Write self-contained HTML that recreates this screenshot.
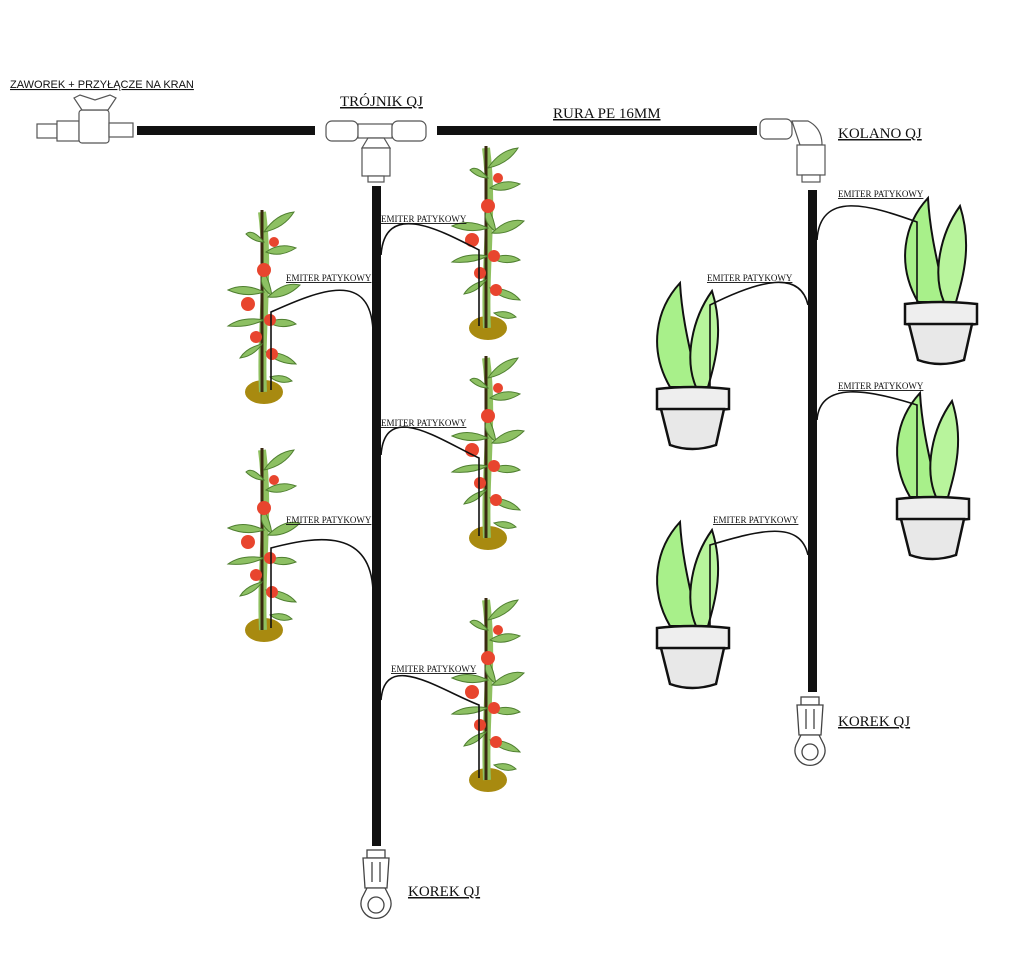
<!DOCTYPE html>
<html><head><meta charset="utf-8"><style>
body{margin:0;background:#fff}
svg{display:block}
text{font-family:"Liberation Serif",serif;fill:#111;text-decoration:underline}
</style></head><body>
<svg width="1024" height="967" viewBox="0 0 1024 967" xmlns="http://www.w3.org/2000/svg">
<defs>
<g id="tom">
<ellipse cx="0" cy="0" rx="19" ry="12" fill="#a88a10"/>
<path d="M-1,0 C-4,-60 6,-120 -2,-180" stroke="#8fc060" stroke-width="8" fill="none"/>
<line x1="-2" y1="0" x2="-2" y2="-182" stroke="#3a2a10" stroke-width="3"/>
<g fill="#8dc063" stroke="#4f7f30" stroke-width="1">
<path d="M0,-160 q12,-18 30,-20 q-10,16 -30,20z"/>
<path d="M0,-150 q-12,-14 -18,-8 q8,8 18,8z"/>
<path d="M2,-140 q14,-10 30,-4 q-16,10 -30,4z"/>
<path d="M0,-120 q-8,12 8,24 q-2,-14 -8,-24z"/>
<path d="M0,-100 q-20,-10 -36,-2 q18,8 36,2z"/>
<path d="M4,-95 q16,-16 32,-12 q-14,14 -32,12z"/>
<path d="M0,-72 q-22,-4 -36,6 q20,2 36,-6z"/>
<path d="M4,-70 q18,-6 28,2 q-16,6 -28,-2z"/>
<path d="M2,-40 q20,0 30,12 q-18,0 -30,-12z"/>
<path d="M-2,-48 q-16,4 -22,14 q14,-2 22,-14z"/>
<path d="M6,-15 q14,-4 22,4 q-12,4 -22,-4z"/>
</g>
<g fill="#e8452e">
<circle cx="0" cy="-122" r="7"/><circle cx="10" cy="-150" r="5"/>
<circle cx="-16" cy="-88" r="7"/><circle cx="6" cy="-72" r="6"/>
<circle cx="-8" cy="-55" r="6"/><circle cx="8" cy="-38" r="6"/>
</g>
</g>
<g id="pot">
<path d="M-22,-2 C-44,-40 -36,-80 -12,-106 C-10,-70 -2,-40 6,-2z" fill="#a8f08a" stroke="#111" stroke-width="2"/>
<path d="M4,-2 C-8,-30 0,-70 20,-98 C32,-60 24,-30 16,-2z" fill="#b8f49c" stroke="#111" stroke-width="2"/>
<path d="M-35,0 Q0,-4 37,0 L37,20 Q0,24 -35,20z" fill="#eee" stroke="#111" stroke-width="2.5"/>
<path d="M-31,20 L32,20 L24,56 Q0,64 -22,56z" fill="#e8e8e8" stroke="#111" stroke-width="2.5"/>
</g>
<g id="korek" fill="#fff" stroke="#444" stroke-width="1.3">
<rect x="-9" y="0" width="18" height="8"/>
<path d="M-13,8 L13,8 L11,38 L-11,38z"/>
<line x1="-4" y1="12" x2="-4" y2="32"/><line x1="4" y1="12" x2="4" y2="32"/>
<path d="M-9,38 L9,38 L14,48 A15,15 0 1 1 -14,48z"/>
<circle cx="0" cy="55" r="8"/>
</g>
</defs>

<text x="10" y="88" font-size="11" style="font-family:'Liberation Sans',sans-serif">ZAWOREK + PRZYŁĄCZE NA KRAN</text>
<text x="340" y="106" font-size="15">TRÓJNIK QJ</text>
<text x="553" y="118" font-size="15">RURA PE 16MM</text>
<text x="838" y="138" font-size="15">KOLANO QJ</text>
<text x="408" y="896" font-size="15">KOREK QJ</text>
<text x="838" y="726" font-size="15">KOREK QJ</text>

<g fill="#fff" stroke="#555" stroke-width="1.2">
<rect x="37" y="124" width="20" height="14"/>
<rect x="57" y="121" width="22" height="20"/>
<rect x="79" y="110" width="30" height="33" rx="3"/>
<path d="M74,98 L80,95 L95,100 L110,95 L116,98 L108,110 L82,110z"/>
<rect x="109" y="123" width="24" height="14"/>
</g>
<rect x="137" y="126" width="178" height="9" fill="#111"/>
<rect x="437" y="126" width="320" height="9" fill="#111"/>
<g fill="#fff" stroke="#555" stroke-width="1.2">
<rect x="326" y="121" width="32" height="20" rx="6"/>
<rect x="358" y="124" width="34" height="14"/>
<rect x="392" y="121" width="34" height="20" rx="6"/>
<path d="M368,138 L384,138 L390,148 L362,148z"/>
<rect x="362" y="148" width="28" height="28"/>
<rect x="368" y="176" width="16" height="6"/>
</g>
<g fill="#fff" stroke="#555" stroke-width="1.2">
<rect x="760" y="119" width="32" height="20" rx="6"/>
<path d="M792,121 L808,121 Q822,128 822,145 L800,145 Z"/>
<rect x="797" y="145" width="28" height="30"/>
<rect x="802" y="175" width="18" height="7"/>
</g>
<rect x="372" y="186" width="9" height="660" fill="#111"/>
<rect x="808" y="190" width="9" height="502" fill="#111"/>

<use href="#tom" x="264" y="392"/>
<use href="#tom" x="488" y="328"/>
<use href="#tom" x="488" y="538"/>
<use href="#tom" x="264" y="630"/>
<use href="#tom" x="488" y="780"/>

<use href="#pot" x="692" y="389"/>
<use href="#pot" x="940" y="304"/>
<use href="#pot" x="932" y="499"/>
<use href="#pot" x="692" y="628"/>

<g fill="none" stroke="#111" stroke-width="1.6">
<path d="M373,330 C370,270 320,290 271,312 L271,390"/>
<path d="M381,255 C385,200 440,230 479,250 L479,326"/>
<path d="M381,455 C385,400 440,440 479,458 L479,536"/>
<path d="M373,590 C370,530 320,535 271,548 L271,628"/>
<path d="M381,700 C385,650 440,690 479,705 L479,778"/>
<path d="M808,305 C800,270 760,280 710,305 L710,388"/>
<path d="M817,240 C820,190 870,205 917,222 L917,303"/>
<path d="M817,420 C820,380 870,390 917,405 L917,498"/>
<path d="M808,555 C800,520 760,530 710,545 L710,627"/>
</g>
<g font-size="9">
<text x="286" y="281">EMITER PATYKOWY</text>
<text x="381" y="222">EMITER PATYKOWY</text>
<text x="381" y="426">EMITER PATYKOWY</text>
<text x="286" y="523">EMITER PATYKOWY</text>
<text x="391" y="672">EMITER PATYKOWY</text>
<text x="707" y="281">EMITER PATYKOWY</text>
<text x="838" y="197">EMITER PATYKOWY</text>
<text x="838" y="389">EMITER PATYKOWY</text>
<text x="713" y="523">EMITER PATYKOWY</text>
</g>

<use href="#korek" x="376" y="850"/>
<use href="#korek" x="810" y="697"/>
</svg>
</body></html>
